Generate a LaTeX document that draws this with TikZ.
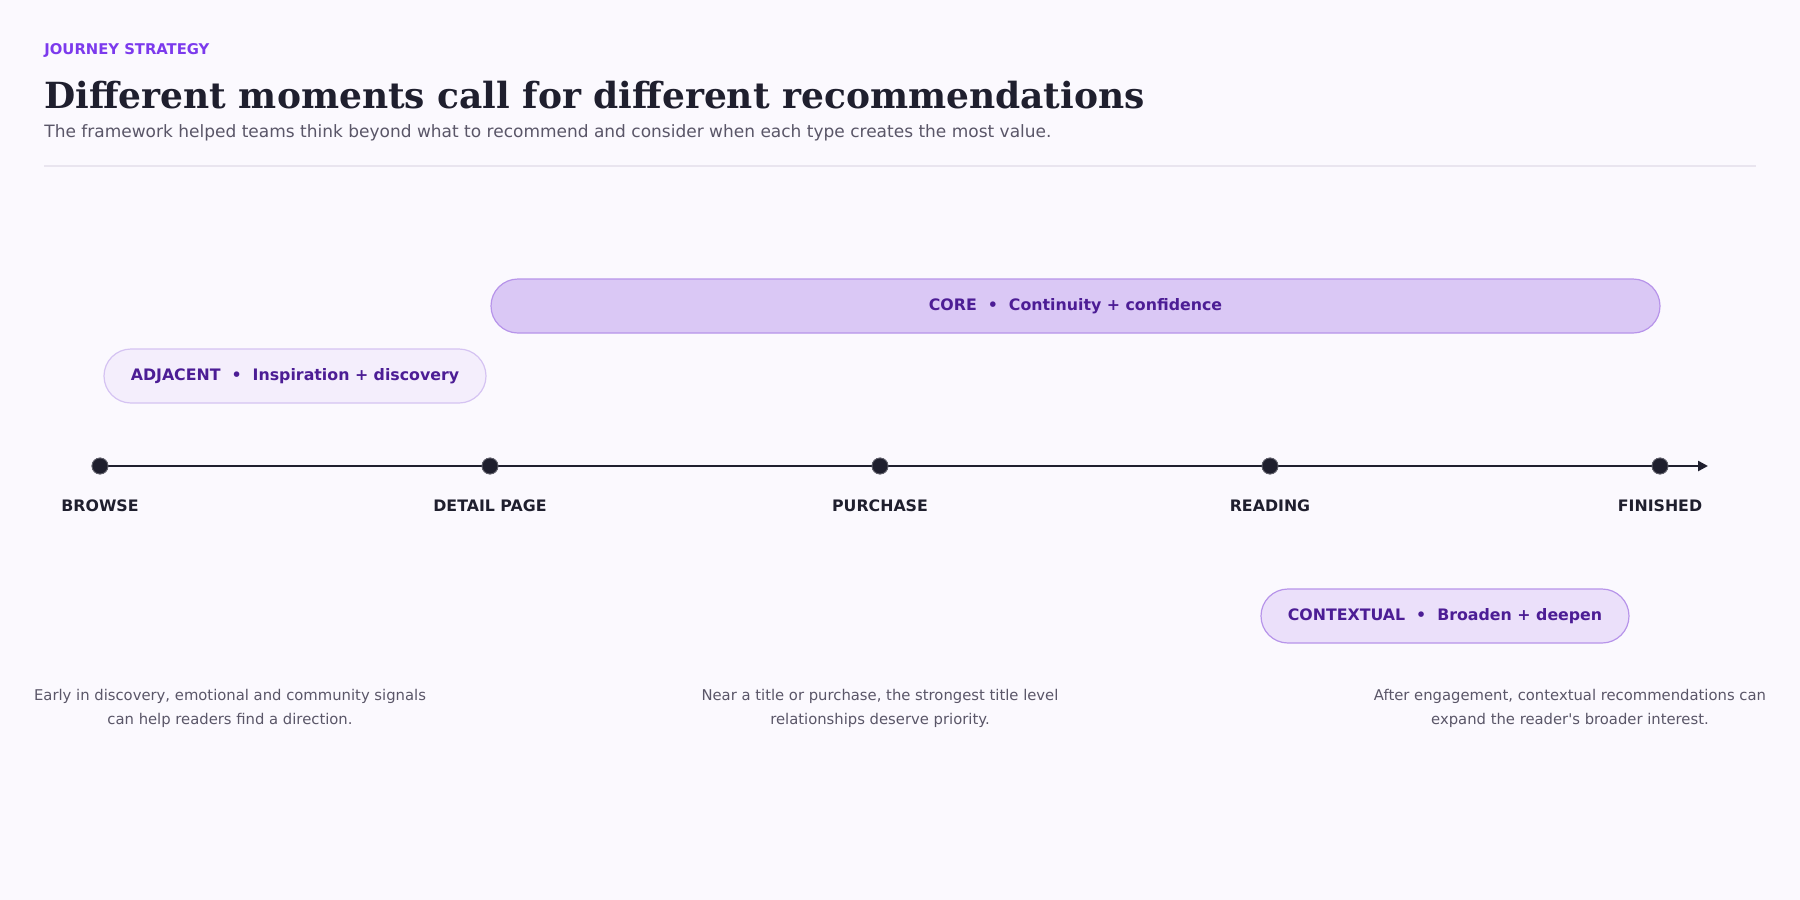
\documentclass[tikz,border=0pt]{standalone}
\usepackage{fontspec}
\setmainfont{DejaVu Sans}
\newfontfamily\titlefont{DejaVu Serif}
\usetikzlibrary{positioning,arrows.meta}
\definecolor{bgc}{HTML}{FBF9FE}
\definecolor{kicker}{HTML}{7C3AED}
\definecolor{ink}{HTML}{1F1F2E}
\definecolor{muted}{HTML}{5A5668}
\definecolor{rulec}{HTML}{E9E5EF}
\definecolor{pilltext}{HTML}{4C1D95}
\definecolor{corefill}{HTML}{DAC8F5}
\definecolor{coreline}{HTML}{B794EA}
\definecolor{adjfill}{HTML}{F4EEFC}
\definecolor{adjline}{HTML}{D5C3F2}
\definecolor{ctxfill}{HTML}{EBE0FA}
\tikzset{
  stage/.style={circle,fill=ink,draw=ink!70,minimum size=16*0.5pt,inner sep=0pt},
  stagelabel/.style={font=\fontsize{7.9}{9}\selectfont\bfseries,text=ink},
  pill/.style={rounded corners=13.5pt,line width=0.6pt,inner sep=0pt,
    font=\fontsize{7.9}{9}\selectfont\bfseries,text=pilltext},
  note/.style={font=\fontsize{7.4}{12}\selectfont,text=muted,align=center}
}
\newcommand{\pillsep}{\ \ \textbullet\ \ }
\begin{document}
\begin{tikzpicture}[x=0.5pt,y=-0.5pt]
  \fill[bgc] (0,0) rectangle (1800,900);
  \useasboundingbox (0,0) rectangle (1800,900);
  % header
  \node[anchor=west,text=kicker,font=\fontsize{7.4}{8}\selectfont\bfseries,inner sep=0pt] (kick) at (44,50) {JOURNEY STRATEGY};
  \node[anchor=west,text=ink,font=\titlefont\fontsize{18}{22}\selectfont\bfseries,inner sep=0pt] (title) at (44,95) {Different moments call for different recommendations};
  \node[anchor=west,text=muted,font=\fontsize{8.5}{10}\selectfont,inner sep=0pt] (sub) at (44,133) {The framework helped teams think beyond what to recommend and consider when each type creates the most value.};
  \draw[rulec,line width=0.6pt] (44,166) -- (1756,166);
  % pills
  \node[pill,fill=corefill,draw=coreline,minimum width=1169*0.5pt,minimum height=54*0.5pt] (core) at (1075.5,306) {CORE\pillsep Continuity + confidence};
  \node[pill,fill=adjfill,draw=adjline,minimum width=382*0.5pt,minimum height=54*0.5pt] (adj) at (295,376) {ADJACENT\pillsep Inspiration + discovery};
  \node[pill,fill=ctxfill,draw=coreline,minimum width=368*0.5pt,minimum height=54*0.5pt] (ctx) at (1445,616) {CONTEXTUAL\pillsep Broaden + deepen};
  % timeline
  \coordinate (end) at (1708,466);
  \node[stage] (s1) at (100,466) {};
  \node[stage] (s2) at (490,466) {};
  \node[stage] (s3) at (880,466) {};
  \node[stage] (s4) at (1270,466) {};
  \node[stage] (s5) at (1660,466) {};
  \draw[ink,line width=1.2pt,-{Triangle[length=5pt,width=5pt]}] (s1) -- (end);
  \foreach \s in {s1,s2,s3,s4,s5} \node[stage] at (\s) {};
  \node[stagelabel] (l1) at (100,506) {BROWSE};
  \node[stagelabel] (l2) at (490,506) {DETAIL PAGE};
  \node[stagelabel] (l3) at (880,506) {PURCHASE};
  \node[stagelabel] (l4) at (1270,506) {READING};
  \node[stagelabel] (l5) at (1660,506) {FINISHED};
  % notes
  \node[note] (n1) at (230,708) {Early in discovery, emotional and community signals\\can help readers find a direction.};
  \node[note] (n2) at (880,708) {Near a title or purchase, the strongest title level\\relationships deserve priority.};
  \node[note] (n3) at (1570,708) {After engagement, contextual recommendations can\\expand the reader\textquotesingle s broader interest.};
\end{tikzpicture}
\end{document}
